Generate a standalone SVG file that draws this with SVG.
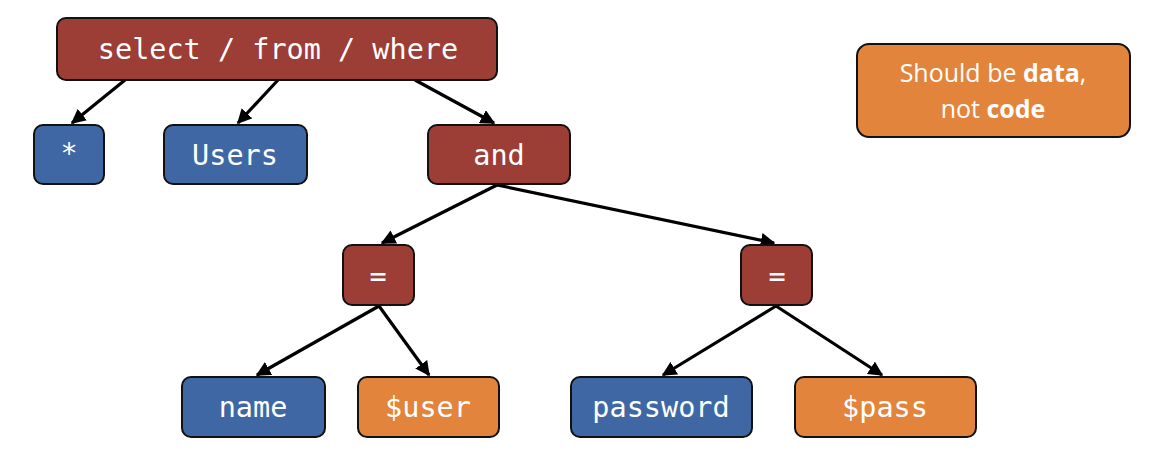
<svg xmlns="http://www.w3.org/2000/svg" width="1154" height="454" viewBox="0 0 1154 454">
<style>
.n rect{stroke:#111;stroke-width:2}
.red{fill:#9C3D36}
.blue{fill:#3F67A4}
.orange{fill:#E3843C}
.t{font-family:"DejaVu Sans Mono","Liberation Mono",monospace;font-size:28.5px;fill:#fff;text-anchor:middle;dominant-baseline:central}
.s{font-family:"Open Sans","Noto Sans",sans-serif;font-size:25px;fill:#fff;text-anchor:middle}
#edges line{stroke:#000;stroke-width:3.2;marker-end:url(#ah)}
</style>
<defs>
<marker id="ah" viewBox="0 0 10 10" refX="9" refY="5" markerWidth="4.6" markerHeight="4.6" orient="auto" markerUnits="strokeWidth">
<path d="M0,0L10,5L0,10z" fill="#000"/>
</marker>
</defs>
<rect width="1154" height="454" fill="#fff"/>
<g id="edges">
<line x1="125" y1="80" x2="72" y2="123"/>
<line x1="278" y1="80" x2="238" y2="123"/>
<line x1="415" y1="80" x2="494" y2="123"/>
<line x1="497" y1="185" x2="382" y2="243"/>
<line x1="497" y1="185" x2="774" y2="243"/>
<line x1="379" y1="306" x2="257" y2="375"/>
<line x1="379" y1="306" x2="429" y2="375"/>
<line x1="776" y1="306" x2="663" y2="375"/>
<line x1="776" y1="306" x2="882" y2="375"/>
</g>
<g id="n-select" class="n"><rect class="red" x="57" y="18" width="440" height="62" rx="9"/><text class="t" x="278" y="49">select / from / where</text></g>
<g id="n-star" class="n"><rect class="blue" x="34" y="125" width="70" height="59" rx="9"/><text class="t" x="69" y="153">*</text></g>
<g id="n-users" class="n"><rect class="blue" x="164" y="125" width="143" height="59" rx="9"/><text class="t" x="235" y="155">Users</text></g>
<g id="n-and" class="n"><rect class="red" x="428" y="125" width="142" height="59" rx="9"/><text class="t" x="499" y="155">and</text></g>
<g id="n-eq1" class="n"><rect class="red" x="343" y="245" width="71" height="60" rx="9"/><text class="t" x="378" y="276">=</text></g>
<g id="n-eq2" class="n"><rect class="red" x="741" y="245" width="71" height="60" rx="9"/><text class="t" x="777" y="276">=</text></g>
<g id="n-name" class="n"><rect class="blue" x="182" y="377" width="143" height="60" rx="9"/><text class="t" x="253" y="407">name</text></g>
<g id="n-user" class="n"><rect class="orange" x="358" y="377" width="141" height="60" rx="9"/><text class="t" x="428" y="407">$user</text></g>
<g id="n-password" class="n"><rect class="blue" x="571" y="377" width="181" height="60" rx="9"/><text class="t" x="661" y="407">password</text></g>
<g id="n-pass" class="n"><rect class="orange" x="795" y="377" width="181" height="60" rx="9"/><text class="t" x="885" y="407">$pass</text></g>
<g id="n-note" class="n"><rect class="orange" x="857" y="44" width="273" height="93" rx="12"/>
<text class="s" x="993" y="82">Should be <tspan font-weight="bold">data</tspan>,</text>
<text class="s" x="993" y="118">not <tspan font-weight="bold">code</tspan></text></g>
</svg>
